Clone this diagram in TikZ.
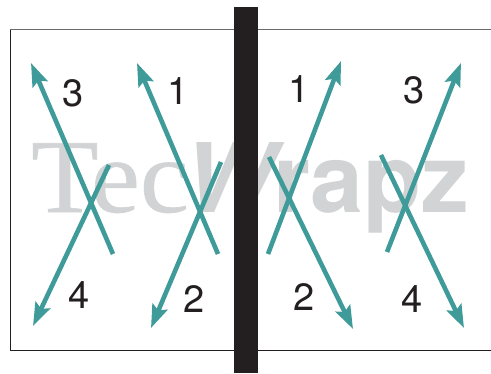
\documentclass[tikz,border=0pt]{standalone}
\usepackage{fontspec}
\setmainfont{TeX Gyre Heros}
\newfontfamily\markserif[FakeBold=0.6,FakeStretch=1.05]{Liberation Serif}
\usetikzlibrary{arrows.meta}
\definecolor{strand}{HTML}{3F9B99}
\definecolor{bar}{HTML}{231F20}
\definecolor{mark}{HTML}{D1D3D4}
\definecolor{framegray}{HTML}{6A6A6C}

\begin{document}
\begin{tikzpicture}[x=1pt,y=-1pt,
    strandarrow/.style={line width=4.6pt,color=strand,-{Stealth[length=23pt,width=16pt,inset=4pt]}},
    digit/.style={inner sep=0pt,text=bar,font=\fontsize{38}{38}\selectfont},
    marktext/.style={inner sep=0pt,anchor=base west,text=mark}]
\useasboundingbox (0,0) rectangle (491,373);
\node[marktext,font=\markserif\fontsize{105}{105}\selectfont] (tec) at (31,212) {Tec};
\node[marktext,font=\bfseries\itshape\fontsize{96}{96}\selectfont] (w) at (184,212) {W};
\node[marktext,font=\bfseries\fontsize{95}{95}\selectfont] (rapz) at (273,212) {rapz};
\draw[bar,line width=1pt] (10.5,29.5) -- (10.5,350) -- (491,350);
\draw[framegray,line width=1.8pt] (10,29.5) -- (491,29.5);
\fill[bar] (234,7) rectangle (258,373);
% left page
\coordinate (a1) at (113,254);
\coordinate (a2) at (31,63);
\coordinate (b1) at (109,165);
\coordinate (b2) at (33,326);
\coordinate (c1) at (218,254);
\coordinate (c2) at (137,63);
\coordinate (d1) at (221,162);
\coordinate (d2) at (151,328);
\draw[strandarrow] (a1) -- (a2);
\draw[strandarrow] (b1) -- (b2);
\draw[strandarrow] (c1) -- (c2);
\draw[strandarrow] (d1) -- (d2);
% right page
\coordinate (e1) at (268,254);
\coordinate (e2) at (341,61);
\coordinate (f1) at (269,157);
\coordinate (f2) at (353,329);
\coordinate (g1) at (387,252);
\coordinate (g2) at (461,63);
\coordinate (h1) at (381,155);
\coordinate (h2) at (464,328);
\draw[strandarrow] (e1) -- (e2);
\draw[strandarrow] (f1) -- (f2);
\draw[strandarrow] (g1) -- (g2);
\draw[strandarrow] (h1) -- (h2);
\node[digit] (n3l) at (73,93) {3};
\node[digit] (n1l) at (178,91) {1};
\node[digit] (n4l) at (79,295) {4};
\node[digit] (n2l) at (194,299) {2};
\node[digit] (n1r) at (299,89) {1};
\node[digit] (n3r) at (414,90) {3};
\node[digit] (n2r) at (304,297) {2};
\node[digit] (n4r) at (412,299) {4};
\end{tikzpicture}
\end{document}
